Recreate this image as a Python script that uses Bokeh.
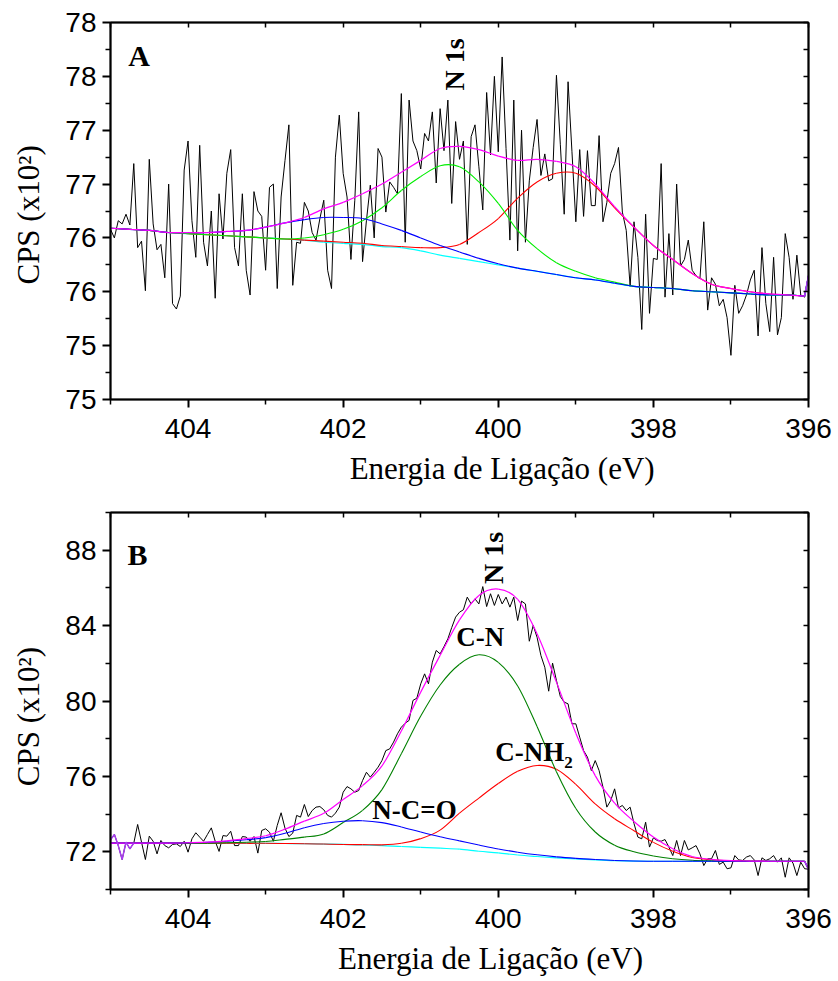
import numpy as np
from bokeh.plotting import figure
from bokeh.models import Range1d, FixedTicker, LinearAxis, Label
from bokeh.layouts import column
from bokeh.embed import file_html
from bokeh.resources import INLINE

# ---------------- data ----------------
N_POINTS = 181
ENERGY = [round(405.0 - 0.05 * i, 2) for i in range(N_POINTS)]

COUNTS_A = [
    76.58, 76.50, 76.66, 76.63, 76.72, 76.62, 77.19, 76.41, 76.47, 76.01,
    77.23, 76.63, 76.39, 76.44, 76.13, 77.00, 75.89, 75.84, 75.96, 77.13,
    77.40, 76.66, 76.32, 77.36, 76.46, 76.24, 76.75, 75.94, 76.91, 76.49,
    77.10, 77.32, 76.41, 76.24, 76.91, 76.20, 75.97, 76.93, 76.75, 76.70,
    76.20, 76.97, 77.00, 76.03, 76.88, 77.22, 77.55, 76.06, 76.46, 76.45,
    76.83, 76.75, 76.55, 76.48, 76.68, 76.85, 76.20, 76.03, 77.25, 77.64,
    77.10, 76.88, 76.30, 76.85, 77.67, 76.28, 76.66, 76.99, 76.50, 77.33,
    77.25, 76.74, 77.02, 76.97, 76.91, 77.84, 76.46, 77.78, 77.40, 77.31,
    77.14, 77.47, 77.40, 77.67, 77.01, 77.70, 77.31, 77.78, 76.82, 77.58,
    77.23, 77.40, 76.44, 77.44, 77.55, 77.16, 76.76, 77.85, 77.27, 78.00,
    77.30, 78.18, 77.33, 76.48, 77.78, 76.38, 77.50, 76.46, 77.03, 77.34,
    77.60, 77.08, 77.28, 77.03, 77.05, 78.01, 77.37, 76.72, 77.95, 77.30,
    76.65, 77.32, 76.70, 77.31, 76.80, 76.80, 77.45, 76.65, 76.83, 77.10,
    77.19, 77.34, 76.74, 76.57, 76.05, 76.65, 76.32, 75.65, 76.72, 75.80,
    76.31, 76.30, 77.19, 75.95, 76.54, 75.97, 77.00, 76.24, 76.30, 76.48,
    76.20, 76.15, 76.12, 76.65, 75.83, 76.13, 76.07, 75.87, 75.93, 75.76,
    75.41, 76.06, 75.80, 75.87, 75.97, 76.11, 76.20, 75.59, 76.41, 75.89,
    75.63, 76.32, 75.60, 75.76, 76.54, 76.32, 75.93, 76.34, 75.97, 75.95,
    76.15,
]

COUNTS_B = [
    72.63, 72.92, 72.33, 71.59, 72.51, 72.16, 72.46, 73.45, 72.51, 71.59,
    72.83, 72.56, 71.89, 72.60, 72.33, 72.21, 72.39, 72.42, 72.28, 72.56,
    71.98, 72.69, 73.01, 72.78, 72.56, 72.92, 73.27, 72.56, 72.02, 72.86,
    72.83, 73.09, 72.33, 72.33, 72.81, 72.78, 72.56, 72.81, 71.93, 73.13,
    73.22, 73.04, 72.56, 73.40, 74.07, 73.25, 72.81, 72.99, 73.93, 73.84,
    74.51, 73.87, 74.19, 74.37, 74.40, 74.23, 73.93, 73.84, 74.05, 74.37,
    75.16, 75.46, 75.34, 75.16, 75.25, 75.78, 76.22, 75.96, 76.22, 76.49,
    76.84, 77.37, 77.46, 77.82, 78.26, 78.61, 78.82, 78.97, 80.03, 80.15,
    80.91, 81.44, 80.91, 82.06, 82.68, 82.50, 82.89, 83.30, 83.90, 84.45,
    84.71, 84.84, 85.51, 85.15, 85.42, 85.15, 86.07, 85.01, 85.69, 85.07,
    85.65, 85.15, 85.51, 84.98, 85.51, 84.27, 85.30, 85.15, 83.17, 84.01,
    83.38, 82.41, 81.79, 80.52, 82.01, 81.09, 80.24, 79.94, 79.85, 78.79,
    78.79, 78.08, 77.37, 77.02, 76.31, 76.84, 76.31, 75.43, 74.37, 74.72,
    75.34, 74.33, 74.46, 74.19, 74.37, 73.50, 72.78, 72.69, 73.57, 72.25,
    72.74, 72.60, 72.56, 72.65, 72.25, 71.80, 72.60, 71.80, 72.60, 72.10,
    72.21, 72.33, 71.89, 71.27, 71.63, 71.63, 72.07, 71.33, 71.45, 71.10,
    71.15, 71.80, 71.57, 71.54, 71.72, 71.80, 71.57, 70.74, 71.68, 71.54,
    71.63, 71.80, 71.45, 71.68, 70.65, 71.68, 71.40, 70.74, 71.45, 71.10,
    71.08,
]

# fitted components, sampled on a grid (eV)
FIT_ENERGY = [405.0 - 0.25 * k for k in range(36)] + [396.05, 396.0]

BASE_A = [76.59, 76.58, 76.57, 76.55, 76.54, 76.53, 76.52, 76.51, 76.50, 76.49,
          76.48, 76.46, 76.45, 76.44, 76.42, 76.41, 76.38, 76.34, 76.31, 76.28,
          76.25, 76.22, 76.19, 76.16, 76.13, 76.11, 76.08, 76.05, 76.04, 76.03,
          76.01, 76.00, 75.99, 75.98, 75.97, 75.97, 75.96, 76.15]
BLUE_A = [76.59, 76.58, 76.57, 76.55, 76.55, 76.55, 76.56, 76.57, 76.60, 76.64,
          76.67, 76.69, 76.69, 76.68, 76.63, 76.57, 76.50, 76.43, 76.37, 76.31,
          76.26, 76.22, 76.19, 76.16, 76.13, 76.11, 76.08, 76.05, 76.04, 76.03,
          76.01, 76.00, 75.99, 75.98, 75.97, 75.97, 75.96, 76.15]
GREEN_A = [76.59, 76.58, 76.57, 76.55, 76.54, 76.53, 76.52, 76.51, 76.50, 76.49,
           76.50, 76.53, 76.58, 76.66, 76.78, 76.94, 77.07, 77.17, 77.16, 77.02,
           76.82, 76.57, 76.40, 76.27, 76.19, 76.13, 76.09, 76.05, 76.04, 76.03,
           76.01, 76.00, 75.99, 75.98, 75.97, 75.97, 75.96, 76.15]
RED_A = [76.59, 76.58, 76.57, 76.55, 76.54, 76.53, 76.52, 76.51, 76.50, 76.49,
         76.48, 76.47, 76.46, 76.45, 76.43, 76.42, 76.41, 76.41, 76.44, 76.55,
         76.68, 76.87, 77.02, 77.10, 77.10, 76.98, 76.78, 76.60, 76.43, 76.30,
         76.17, 76.07, 76.03, 76.00, 75.98, 75.97, 75.96, 76.15]

BASE_B = [72.46, 72.46, 72.46, 72.46, 72.46, 72.46, 72.46, 72.45, 72.45, 72.44,
          72.43, 72.41, 72.39, 72.36, 72.33, 72.28, 72.24, 72.19, 72.14, 72.03,
          71.94, 71.83, 71.75, 71.68, 71.62, 71.57, 71.53, 71.51, 71.50, 71.50,
          71.50, 71.50, 71.50, 71.50, 71.50, 71.50, 71.50, 71.08]
BLUE_B = [72.46, 72.46, 72.46, 72.46, 72.48, 72.51, 72.56, 72.64, 72.75, 72.98,
          73.28, 73.50, 73.62, 73.65, 73.55, 73.32, 73.05, 72.80, 72.58, 72.36,
          72.15, 71.98, 71.84, 71.73, 71.65, 71.59, 71.54, 71.51, 71.50, 71.50,
          71.50, 71.50, 71.50, 71.50, 71.50, 71.50, 71.50, 71.08]
GREEN_B = [72.46, 72.46, 72.46, 72.46, 72.46, 72.46, 72.48, 72.51, 72.55, 72.66,
           72.78, 72.95, 73.55, 74.20, 75.30, 77.20, 79.20, 80.85, 81.95, 82.45,
           82.05, 80.80, 78.65, 76.25, 74.30, 73.05, 72.35, 72.00, 71.78, 71.63,
           71.55, 71.52, 71.50, 71.50, 71.50, 71.50, 71.50, 71.08]
RED_B = [72.46, 72.46, 72.46, 72.46, 72.46, 72.46, 72.46, 72.45, 72.45, 72.44,
         72.43, 72.41, 72.39, 72.38, 72.37, 72.45, 72.70, 73.15, 74.05, 74.85,
         75.62, 76.27, 76.58, 76.38, 75.58, 74.54, 73.75, 73.12, 72.50, 72.03,
         71.70, 71.58, 71.53, 71.51, 71.50, 71.50, 71.50, 71.08]

X_TICKS = [404, 402, 400, 398, 396]
X_MINOR = [405, 403, 401, 399, 397]

Y_TICKS_A = [75.0, 75.5, 76.0, 76.5, 77.0, 77.5, 78.0, 78.5]
Y_TICK_LABELS_A = ["75", "75", "76", "76", "77", "77", "78", "78"]
Y_MINOR_A = [75.25, 75.75, 76.25, 76.75, 77.25, 77.75, 78.25]

Y_TICKS_B = [72, 76, 80, 84, 88]
Y_TICK_LABELS_B = ["72", "76", "80", "84", "88"]
Y_MINOR_B = [70, 74, 78, 82, 86, 90]

X_LABEL = "Energia de Ligação (eV)"
Y_LABEL = "CPS (x10²)"

SERIF = "Liberation Serif"
SANS = "Liberation Sans"
NBSP = "\u00a0"


def style_main_axis(ax):
    ax.axis_line_width = 2
    ax.major_tick_line_width = 2
    ax.minor_tick_line_width = 1.5
    ax.major_tick_out = 8
    ax.major_tick_in = 0
    ax.minor_tick_out = 5
    ax.minor_tick_in = 0
    ax.major_label_text_font = SANS
    ax.major_label_text_font_size = "28px"
    ax.major_label_text_color = "black"
    ax.axis_label_text_font = SERIF
    ax.axis_label_text_font_size = "31px"
    ax.axis_label_text_font_style = "normal"
    ax.axis_label_text_color = "black"


def mirror_axis(all_ticks):
    # inward ticks only, no labels
    return LinearAxis(ticker=FixedTicker(ticks=[], minor_ticks=all_ticks),
                      axis_line_width=2,
                      major_tick_in=0, major_tick_out=0,
                      minor_tick_in=5, minor_tick_out=0,
                      minor_tick_line_width=1.5)


def smooth_line(p, xs, ys, color, width):
    """Draw the sampled curve smoothly (Catmull-Rom as cubic Bezier segments)."""
    x = np.array(xs[:-1], dtype=float)
    y = np.array(ys[:-1], dtype=float)
    px = np.concatenate([[x[0]], x, [x[-1]]])
    py = np.concatenate([[y[0]], y, [y[-1]]])
    k = np.arange(len(x) - 1)
    cx0 = px[k + 1] + (px[k + 2] - px[k]) / 6.0
    cy0 = py[k + 1] + (py[k + 2] - py[k]) / 6.0
    cx1 = px[k + 2] - (px[k + 3] - px[k + 1]) / 6.0
    cy1 = py[k + 2] - (py[k + 3] - py[k + 1]) / 6.0
    p.bezier(x0=x[:-1], y0=y[:-1], x1=x[1:], y1=y[1:],
             cx0=cx0, cy0=cy0, cx1=cx1, cy1=cy1,
             line_color=color, line_width=width)
    p.line([xs[-2], xs[-1]], [ys[-2], ys[-1]], line_color=color, line_width=width)


def make_panel(counts, base, blue, green, red, green_color, y_start, y_end,
               y_ticks, y_labels, y_minor, xlabel_shift, ylabel_shift):
    p = figure(width=838, height=490, output_backend="svg", toolbar_location=None,
               x_range=Range1d(405, 396), y_range=Range1d(y_start, y_end),
               min_border_left=110, min_border_right=30,
               min_border_top=22, min_border_bottom=91,
               background_fill_color="white", border_fill_color="white")
    p.xgrid.visible = False
    p.ygrid.visible = False
    p.outline_line_color = "black"
    p.outline_line_width = 1.5

    p.xaxis.ticker = FixedTicker(ticks=X_TICKS, minor_ticks=X_MINOR)
    p.yaxis.ticker = FixedTicker(ticks=y_ticks, minor_ticks=y_minor)
    # no-break spaces shift the centred titles, as placed in the original
    p.xaxis.axis_label = NBSP * xlabel_shift + X_LABEL
    p.yaxis.axis_label = Y_LABEL + NBSP * ylabel_shift
    p.yaxis.major_label_overrides = {t: l for t, l in zip(y_ticks, y_labels)}
    style_main_axis(p.xaxis[0])
    style_main_axis(p.yaxis[0])
    p.xaxis.major_label_standoff = 11
    p.xaxis.axis_label_standoff = 10
    p.yaxis.major_label_standoff = 6
    p.yaxis.axis_label_standoff = 16

    p.add_layout(mirror_axis(X_TICKS + X_MINOR), "above")
    p.add_layout(mirror_axis(list(y_ticks) + list(y_minor)), "right")

    envelope = (np.array(green) + np.array(red) + np.array(blue)
                - 2 * np.array(base))

    p.line(ENERGY, counts, line_color="black", line_width=1)
    smooth_line(p, FIT_ENERGY, base, "#00FFFF", 1.2)
    smooth_line(p, FIT_ENERGY, red, "#FF0000", 1.1)
    smooth_line(p, FIT_ENERGY, green, green_color, 1.1)
    smooth_line(p, FIT_ENERGY, blue, "#0000FF", 1.1)
    smooth_line(p, FIT_ENERGY, list(envelope), "#FF00FF", 1.2)
    p.line(FIT_ENERGY[-2:], list(envelope[-2:]), line_color="#A040F0", line_width=1.5)
    return p


pA = make_panel(COUNTS_A, BASE_A, BLUE_A, GREEN_A, RED_A, "#00EE00",
                75.0, 78.5, Y_TICKS_A, Y_TICK_LABELS_A, Y_MINOR_A, 11, 1)
pB = make_panel(COUNTS_B, BASE_B, BLUE_B, GREEN_B, RED_B, "#008000",
                70.0, 90.0, Y_TICKS_B, Y_TICK_LABELS_B, Y_MINOR_B, 8, 4)

# purple start of the fit in panel B (fit follows the first data points)
pB.line(ENERGY[:7], COUNTS_B[:7], line_color="#A83CF0", line_width=1.5)


def bold_label(p, x, y, text, size, align="left", baseline="alphabetic", angle=0.0):
    p.add_layout(Label(x=x, y=y, text=text, text_font=SERIF, text_font_style="bold",
                       text_font_size=size, text_align=align, text_baseline=baseline,
                       angle=angle, text_color="black"))


bold_label(pA, 404.77, 78.19, "A", "30px")
bold_label(pA, 400.567, 78.11, "N 1s", "28px", align="center", baseline="middle",
           angle=np.pi / 2)

bold_label(pB, 404.78, 87.79, "B", "30px")
bold_label(pB, 400.058, 87.59, "N 1s", "28px", align="center", baseline="middle",
           angle=np.pi / 2)
bold_label(pB, 400.232, 83.39, "C-N", "27px", align="center")
bold_label(pB, 400.039, 77.29, "C-NH", "27px")
bold_label(pB, 399.15, 76.76, "2", "17px")
bold_label(pB, 401.624, 74.21, "N-C=O", "27px")

layout = column(pA, pB, spacing=0)
open("out.html", "w").write(file_html(layout, INLINE))
